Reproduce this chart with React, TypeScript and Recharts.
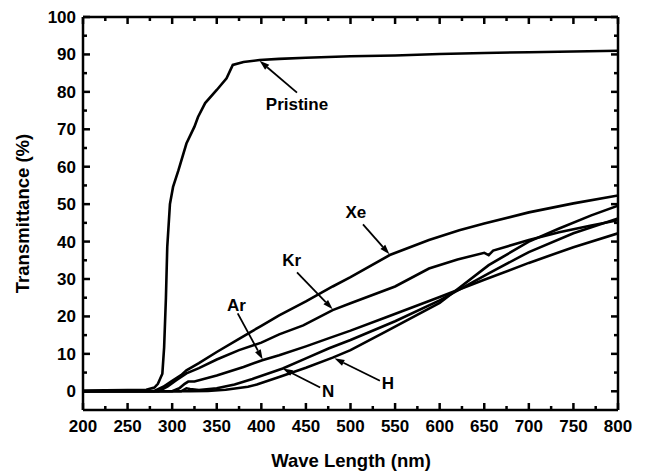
import React from 'react';
import { LineChart, Line, XAxis, YAxis, ReferenceLine, ReferenceDot } from 'recharts';

// wavelength (nm) and transmittance (%)
const pristineNm = [200, 250, 271, 280, 284, 289, 291, 293, 294.5, 297.5, 301, 307, 316, 325, 329, 337, 350, 361, 368, 380, 398, 420, 450, 500, 550, 600, 650, 700, 750, 800];
const pristineT = [0.2, 0.3, 0.4, 1.0, 2.0, 4.7, 11.8, 25, 38.6, 50, 54.6, 59, 66.2, 70.7, 73.3, 77, 80.5, 83.6, 87.2, 88, 88.5, 88.8, 89.1, 89.5, 89.7, 90.1, 90.4, 90.6, 90.8, 91];

const xeNm = [200, 280, 290, 300, 310, 316, 330, 350, 375, 400, 420, 450, 480, 500, 544, 588, 622, 650, 700, 750, 800];
const xeT = [0, 0.1, 1.2, 2.8, 4.3, 5.6, 7.5, 10.5, 14, 17.5, 20.3, 24, 28, 30.5, 36.4, 40.4, 43, 44.8, 47.8, 50.2, 52.3];

const krNm = [200, 285, 295, 305, 316, 330, 350, 375, 400, 420, 447, 480, 500, 550, 588, 620, 650, 655, 660, 700, 734, 770, 800];
const krT = [0, 0, 1.3, 3, 4.8, 6.2, 8.5, 11, 13, 15.2, 17.6, 21.7, 23.5, 28, 32.8, 35.2, 37, 36.4, 37.6, 40.4, 42.5, 44.3, 45.7];

const arNm = [200, 300, 308, 314, 318, 325, 350, 380, 401, 420, 450, 476, 500, 540, 600, 650, 700, 750, 800];
const arT = [0, 0, 0.8, 2, 2.6, 2.6, 4.2, 6.5, 8.3, 9.6, 12, 14.2, 16.2, 19.8, 25.2, 29.8, 34.3, 38.5, 42.2];

const nNm = [200, 310, 316, 320, 330, 350, 370, 390, 424, 450, 476, 500, 550, 600, 655, 700, 750, 800];
const nT = [0, 0, 0.8, 0.6, 0.3, 0.8, 1.8, 3.3, 6.1, 8.8, 11.5, 13.7, 18.7, 24.3, 31.5, 37.2, 42.2, 46.2];

const hNm = [200, 320, 340, 360, 385, 395, 420, 450, 480, 500, 540, 600, 655, 700, 734, 770, 800];
const hT = [0, 0, 0.1, 0.4, 1.2, 1.8, 3.8, 6.3, 9, 11, 16, 23.6, 33.7, 40, 43.5, 47, 49.6];

const xMajor = [200, 250, 300, 350, 400, 450, 500, 550, 600, 650, 700, 750, 800];
const xMinor = [225, 275, 325, 375, 425, 475, 525, 575, 625, 675, 725, 775];
const yMajor = [0, 10, 20, 30, 40, 50, 60, 70, 80, 90, 100];
const yMinor = [5, 15, 25, 35, 45, 55, 65, 75, 85, 95];

// label text position, arrow tail, arrow tip (data coordinates)
const notes = [
  { name: 'Pristine', text: [440, 76.8], tail: [440, 79.8], tip: [398, 88.3] },
  { name: 'Xe', text: [506, 47.9], tail: [514, 44.6], tip: [543.7, 36.6] },
  { name: 'Kr', text: [434, 35], tail: [440, 31.8], tip: [480, 21.9] },
  { name: 'Ar', text: [372, 23], tail: [373.5, 20.8], tip: [401.5, 8.5] },
  { name: 'N', text: [475, 0.2], tail: [466, 1.0], tip: [424, 6.1] },
  { name: 'H', text: [542, 2.3], tail: [533, 2.8], tip: [482, 8.8] },
];

const toPoints = (nm: number[], t: number[]) => nm.map((x, i) => ({ nm: x, t: t[i] }));

const series = [
  { key: 'Pristine', data: toPoints(pristineNm, pristineT) },
  { key: 'Xe', data: toPoints(xeNm, xeT) },
  { key: 'Kr', data: toPoints(krNm, krT) },
  { key: 'Ar', data: toPoints(arNm, arT) },
  { key: 'N', data: toPoints(nNm, nT) },
  { key: 'H', data: toPoints(hNm, hT) },
];

const FONT = 'Arial, "Liberation Sans", sans-serif';
const tickStyle = { fill: '#000', fontSize: 17, fontWeight: 'bold', fontFamily: FONT };
const axisStroke = { stroke: '#000', strokeWidth: 2.5 };

function Arrow(props: any) {
  const { x1, y1, x2, y2 } = props;
  const a = Math.atan2(y2 - y1, x2 - x1);
  const len = 10;
  const half = 3.2;
  const bx = x2 - len * Math.cos(a);
  const by = y2 - len * Math.sin(a);
  const pts = `${x2},${y2} ${bx + half * Math.sin(a)},${by - half * Math.cos(a)} ${bx - half * Math.sin(a)},${by + half * Math.cos(a)}`;
  return (
    <g>
      <line x1={x1} y1={y1} x2={bx} y2={by} stroke="#000" strokeWidth={1.8} />
      <polygon points={pts} fill="#000" />
    </g>
  );
}

// inward tick marks drawn at both ends of a full-height / full-width reference line
const vTicks = (len: number) => (p: any) => {
  const top = Math.min(p.y1, p.y2);
  const bot = Math.max(p.y1, p.y2);
  return (
    <g stroke="#000" strokeWidth={2.5}>
      <line x1={p.x1} x2={p.x1} y1={bot} y2={bot - len} />
      <line x1={p.x1} x2={p.x1} y1={top} y2={top + len} />
    </g>
  );
};
const hTicks = (len: number) => (p: any) => {
  const l = Math.min(p.x1, p.x2);
  const r = Math.max(p.x1, p.x2);
  return (
    <g stroke="#000" strokeWidth={2.5}>
      <line y1={p.y1} y2={p.y1} x1={l} x2={l + len} />
      <line y1={p.y1} y2={p.y1} x1={r} x2={r - len} />
    </g>
  );
};

export default function App() {
  return (
    <div style={{ width: 632, height: 468, fontFamily: FONT }}>
      <LineChart width={632} height={468} margin={{ top: 9, right: 22, bottom: 26, left: 25 }}>
        <XAxis
          xAxisId="x"
          type="number"
          dataKey="nm"
          domain={[200, 800]}
          ticks={xMajor}
          interval={0}
          allowDataOverflow
          height={40}
          tickLine={false}
          tickSize={0}
          tickMargin={10}
          tick={tickStyle}
          axisLine={axisStroke}
          label={{
            content: () => (
              <text x={343} y={452} textAnchor="middle" dominantBaseline="central" fontSize={18.5} fontWeight="bold" fontFamily={FONT} fill="#000">
                Wave Length (nm)
              </text>
            ),
          }}
        />
        <YAxis
          yAxisId="y"
          type="number"
          domain={[-5, 100]}
          ticks={yMajor}
          interval={0}
          allowDataOverflow
          width={50}
          tickLine={false}
          tickSize={0}
          tickMargin={7}
          tick={tickStyle}
          axisLine={axisStroke}
          label={{
            content: () => (
              <text x={14} y={205.5} transform="rotate(-90 14 205.5)" textAnchor="middle" dominantBaseline="central" fontSize={18.5} fontWeight="bold" fontFamily={FONT} fill="#000">
                Transmittance (%)
              </text>
            ),
          }}
        />

        {/* frame: top and right borders */}
        <ReferenceLine xAxisId="x" yAxisId="y" y={100} stroke="#000" strokeWidth={2.5} />
        <ReferenceLine xAxisId="x" yAxisId="y" x={800} stroke="#000" strokeWidth={2.5} />

        {/* inward ticks on all four sides */}
        {xMajor.map((v) => (
          <ReferenceLine key={`xM${v}`} xAxisId="x" yAxisId="y" x={v} shape={vTicks(7)} />
        ))}
        {xMinor.map((v) => (
          <ReferenceLine key={`xm${v}`} xAxisId="x" yAxisId="y" x={v} shape={vTicks(4)} />
        ))}
        {yMajor.map((v) => (
          <ReferenceLine key={`yM${v}`} xAxisId="x" yAxisId="y" y={v} shape={hTicks(7)} />
        ))}
        {yMinor.map((v) => (
          <ReferenceLine key={`ym${v}`} xAxisId="x" yAxisId="y" y={v} shape={hTicks(4)} />
        ))}

        {series.map((s) => (
          <Line
            key={s.key}
            xAxisId="x"
            yAxisId="y"
            data={s.data}
            dataKey="t"
            type="linear"
            stroke="#000"
            strokeWidth={2.6}
            dot={false}
            activeDot={false}
            isAnimationActive={false}
          />
        ))}

        {notes.map((n) => (
          <ReferenceLine
            key={`a-${n.name}`}
            xAxisId="x"
            yAxisId="y"
            segment={[{ x: n.tail[0], y: n.tail[1] }, { x: n.tip[0], y: n.tip[1] }]}
            shape={Arrow}
          />
        ))}
        {notes.map((n) => (
          <ReferenceDot
            key={`t-${n.name}`}
            xAxisId="x"
            yAxisId="y"
            x={n.text[0]}
            y={n.text[1]}
            r={1}
            fill="none"
            stroke="none"
            label={{ value: n.name, position: 'center', fontSize: 17, fontWeight: 'bold', fontFamily: FONT, fill: '#000' }}
          />
        ))}
      </LineChart>
    </div>
  );
}
